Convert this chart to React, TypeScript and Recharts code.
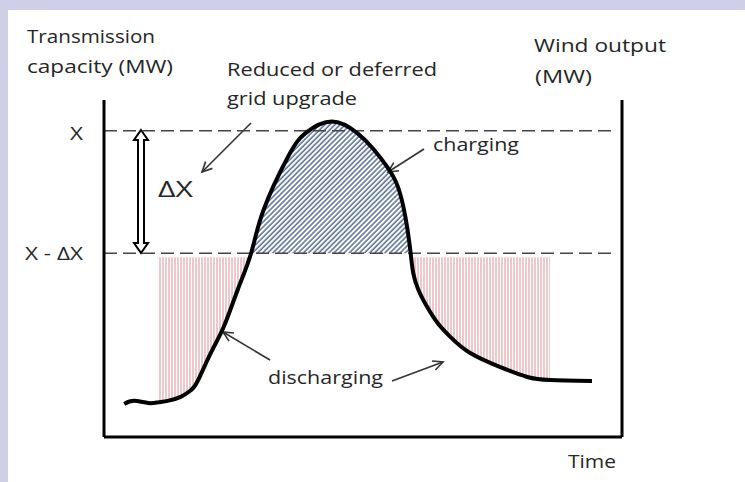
import React from "react";
import {
  ComposedChart,
  Line,
  Area,
  XAxis,
  YAxis,
  ReferenceLine,
  Customized,
} from "recharts";

// wind output over time (arbitrary units)
const times = [3.9, 5.8, 8.5, 10.4, 12.3, 14.8, 16.8, 18.1, 20.6, 23.1, 25.8, 28.4, 30.8, 35.5, 38.9, 44.0, 48.9, 52.0, 54.7, 56.6, 57.8, 58.6, 59.2, 59.7, 60.7, 62.4, 64.4, 66.9, 70.7, 76.5, 81.7, 86.1, 94.2];
const windOutput = [10.8, 11.8, 11.1, 11.3, 11.8, 13.1, 15.3, 18.3, 27.4, 35.9, 48.0, 60.0, 74.1, 91.4, 99.2, 103.0, 99.2, 94.0, 88.1, 82.3, 75.1, 67.6, 60.0, 53.5, 48.0, 42.4, 37.2, 32.6, 27.4, 22.8, 19.6, 18.6, 18.3];

// capacity levels
const capacityX = 100;
const capacityReduced = 60;
const dischargeTop = 58.7;
const capacityTicks = [capacityReduced, capacityX];
const capacityTickLabels = ["X - ΔX", "X"];

// time windows for the shaded regions
const dischargeWindows = [
  [10.4, 28.4],
  [59.2, 86.1],
];
const chargeWindow = [28.4, 59.2];

const inside = (t: number, w: number[]) => t >= w[0] && t <= w[1];

const data = times.map((t, i) => {
  const v = windOutput[i];
  return {
    t,
    wind: v,
    discharge: dischargeWindows.some((w) => inside(t, w)) ? [v, dischargeTop] : null,
    charge: inside(t, chargeWindow) ? [capacityReduced, v] : null,
  };
});

const FONT = "'Open Sans', 'DejaVu Sans', sans-serif";
const TXT = "#262626";
const CURVE = "natural";

const Txt = ({ x, y, w, size = 19, anchor = "start", children }: any) => (
  <text
    x={x}
    y={y}
    fontFamily={FONT}
    fontSize={size}
    fill={TXT}
    textAnchor={anchor}
    textLength={w}
    lengthAdjust="spacingAndGlyphs"
  >
    {children}
  </text>
);

const Arrow = ({ x1, y1, x2, y2 }: any) => {
  const a = Math.atan2(y2 - y1, x2 - x1);
  const len = 11;
  const spread = 0.45;
  const p1 = [x2 - len * Math.cos(a - spread), y2 - len * Math.sin(a - spread)];
  const p2 = [x2 - len * Math.cos(a + spread), y2 - len * Math.sin(a + spread)];
  return (
    <g stroke="#333" strokeWidth={1.6} fill="none">
      <line x1={x1} y1={y1} x2={x2} y2={y2} />
      <polyline points={`${p1[0]},${p1[1]} ${x2},${y2} ${p2[0]},${p2[1]}`} />
    </g>
  );
};

const Patterns = () => (
  <defs>
    <pattern id="redStripes" width="3" height="10" patternUnits="userSpaceOnUse">
      <line x1="1" y1="0" x2="1" y2="10" stroke="#e5a3a8" strokeWidth="1.2" />
    </pattern>
    <pattern id="blueHatch" width="3.6" height="3.6" patternUnits="userSpaceOnUse" patternTransform="rotate(45)">
      <line x1="1" y1="0" x2="1" y2="3.6" stroke="#3a5682" strokeWidth="1.3" />
    </pattern>
  </defs>
);

const Annotations = () => (
  <g>
    <Txt x={27} y={43} w={128}>Transmission</Txt>
    <Txt x={27} y={73} w={146}>capacity (MW)</Txt>
    <Txt x={227} y={76} w={210}>Reduced or deferred</Txt>
    <Txt x={227} y={105} w={130}>grid upgrade</Txt>
    <Txt x={534} y={52} w={132}>Wind output</Txt>
    <Txt x={535} y={83} w={57}>(MW)</Txt>
    <Txt x={433} y={151} w={86}>charging</Txt>
    <Txt x={268} y={384} w={115}>discharging</Txt>
    <Txt x={568} y={468} w={48}>Time</Txt>
    <Txt x={158} y={197} w={35} size={22}>ΔX</Txt>
    <Arrow x1={251} y1={123} x2={202} y2={172} />
    <Arrow x1={424} y1={149} x2={388} y2={172} />
    <Arrow x1={270} y1={360} x2={223} y2={332} />
    <Arrow x1={392} y1={381} x2={443} y2={362} />
    <polygon
      points="141,130 148,140 144,140 144,243 148,243 141,253 134,243 138,243 138,140 134,140"
      fill="#fff"
      stroke="#000"
      strokeWidth={2}
      strokeLinejoin="miter"
    />
  </g>
);

const CapacityTick = (props: any) => {
  const { x, y, payload } = props;
  const idx = capacityTicks.indexOf(payload.value);
  const label = capacityTickLabels[idx] ?? "";
  const w = idx === 1 ? 13 : 58;
  return (
    <text
      x={x}
      y={y}
      dy={idx === 1 ? 9 : 7}
      textAnchor="end"
      fontFamily={FONT}
      fontSize={19}
      fill={TXT}
      textLength={w}
      lengthAdjust="spacingAndGlyphs"
    >
      {label}
    </text>
  );
};

export default function App() {
  return (
    <div style={{ position: "absolute", left: 0, top: 0, width: 745, height: 482, background: "#cfcfe8" }}>
      <div style={{ position: "absolute", left: 8, top: 10, right: 0, bottom: 0, background: "#fff" }} />
      <div style={{ position: "absolute", left: 0, top: 0 }}>
        <ComposedChart width={745} height={482} data={data} margin={{ top: 100, right: 122, bottom: 44, left: 103 }}>
          <Customized component={Patterns} />
          <XAxis
            dataKey="t"
            type="number"
            domain={[0, 100]}
            tick={false}
            tickLine={false}
            height={1}
            axisLine={{ stroke: "#000", strokeWidth: 3 }}
          />
          <YAxis
            type="number"
            domain={[0, 110]}
            ticks={capacityTicks}
            tick={<CapacityTick />}
            tickLine={false}
            tickSize={0}
            tickMargin={21}
            width={1}
            axisLine={{ stroke: "#000", strokeWidth: 3 }}
          />
          <YAxis
            yAxisId="right"
            orientation="right"
            type="number"
            domain={[0, 110]}
            tick={false}
            tickLine={false}
            width={1}
            axisLine={{ stroke: "#000", strokeWidth: 3 }}
          />
          <Area
            dataKey="discharge"
            type={CURVE}
            fill="url(#redStripes)"
            fillOpacity={1}
            stroke="none"
            isAnimationActive={false}
          />
          <Area
            dataKey="charge"
            type={CURVE}
            fill="url(#blueHatch)"
            fillOpacity={1}
            stroke="none"
            isAnimationActive={false}
          />
          <ReferenceLine
            segment={[{ x: 0, y: capacityX }, { x: 98, y: capacityX }]}
            stroke="#444"
            strokeWidth={1.5}
            strokeDasharray="13 6"
          />
          <ReferenceLine
            segment={[{ x: 0, y: capacityReduced }, { x: 98, y: capacityReduced }]}
            stroke="#444"
            strokeWidth={1.5}
            strokeDasharray="13 6"
          />
          <Line
            dataKey="wind"
            type={CURVE}
            stroke="#000"
            strokeWidth={4}
            dot={false}
            isAnimationActive={false}
          />
          <Customized component={Annotations} />
        </ComposedChart>
      </div>
    </div>
  );
}
